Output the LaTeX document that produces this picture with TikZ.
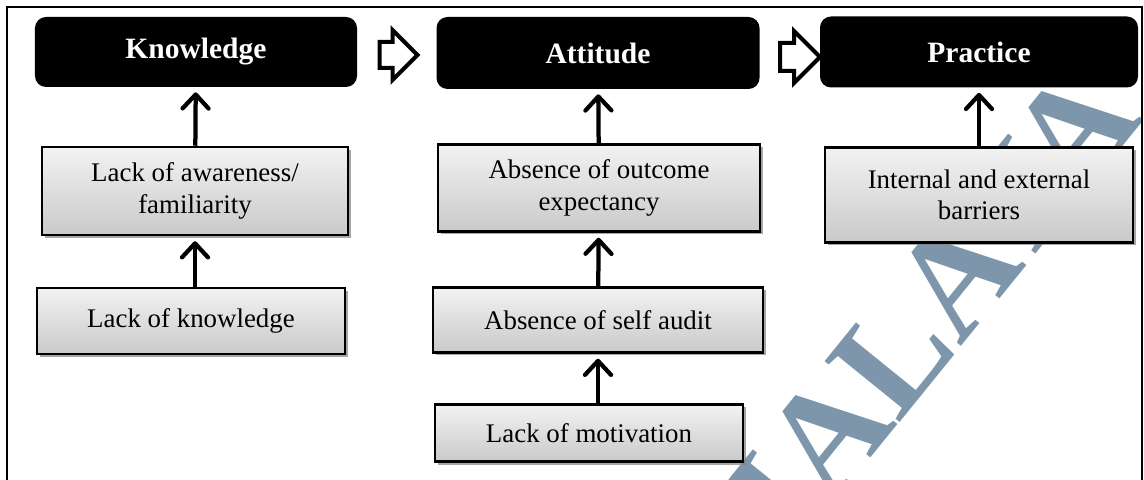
\documentclass[tikz,border=0pt]{standalone}
\usepackage{fontspec}
\setmainfont{Liberation Serif}
\usepackage{tikz}
\usetikzlibrary{shapes.arrows}
\usetikzlibrary{shadows}
\usetikzlibrary{arrows.meta}
\tikzstyle{stage} = [rectangle, rounded corners=2.2mm, fill=black, text=white, inner sep=0pt, font=\fontsize{16.8}{19}\selectfont\bfseries]
\tikzstyle{cause} = [rectangle, draw=black, line width=0.5mm, top color=gray!10, bottom color=gray!42, drop shadow={shadow xshift=0.6mm, shadow yshift=-0.6mm, fill=black!50, opacity=0.7}, align=center, inner sep=0pt, font=\fontsize{15.3}{17.8}\selectfont]
\tikzstyle{lift} = [line width=0.85mm, -{Straight Barb[length=2.8mm, width=5.2mm, line cap=round, line join=round]}, shorten >=1mm]
\tikzstyle{flow} = [single arrow, draw=black, fill=white, line width=0.8mm, inner xsep=0pt, inner ysep=2.2mm, minimum height=7.6mm, single arrow head extend=2.4mm]
\definecolor{wmark}{RGB}{125,150,172}

\begin{document}
\begin{tikzpicture}[x=0.2mm,y=-0.2mm]
			\useasboundingbox (0,0) rectangle (1144,480);
			\node[rotate=51, text=wmark, inner sep=0pt, font=\fontsize{84}{84}\selectfont\bfseries] (wm) at (906,337) {MALAYA};
			\draw[line width=0.3mm] (7,480) -- (7,7) -- (1142,7) -- (1142,480);
			\node[stage, minimum width=64.4mm, minimum height=14mm] (know) at (196,52) {Knowledge};
			\node[stage, minimum width=64.6mm, minimum height=14.4mm] (att) at (598,53) {Attitude};
			\node[stage, minimum width=63.6mm, minimum height=14.2mm] (prac) at (979,52) {Practice};
			\node[flow] (f1) at (392,55) {};
			\node[flow, minimum height=8mm, inner ysep=2.4mm] (f2) at (793,57) {};
			\node[cause, minimum width=61.2mm, minimum height=17.6mm] (aware) at (195,191) {Lack of awareness/\\familiarity};
			\node[cause, minimum width=61.6mm, minimum height=13.2mm] (lknow) at (191,321) {Lack of knowledge};
			\node[cause, minimum width=64.4mm, minimum height=17.4mm] (outc) at (599,188) {Absence of outcome\\expectancy};
			\node[cause, minimum width=66mm, minimum height=13mm] (audit) at (598,320) {Absence of self audit};
			\node[cause, minimum width=61.6mm, minimum height=11.4mm] (motiv) at (589,433) {Lack of motivation};
			\node[cause, minimum width=61.6mm, minimum height=19mm] (barr) at (979,195) {Internal and external\\barriers};
			\draw[lift] (aware) -- (know);
			\draw[lift] (lknow.north -| aware) -- (aware);
			\draw[lift] (outc) -- (att);
			\draw[lift] (audit) -- (outc);
			\draw[lift] (motiv.north -| audit) -- (audit);
			\draw[lift] (barr) -- (prac);
		\end{tikzpicture}
\end{document}
